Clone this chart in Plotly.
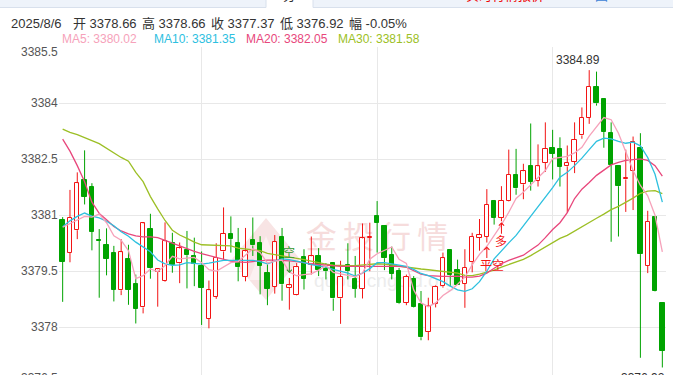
import plotly.graph_objects as go

# ---------------- data ----------------
date_label = "2025/8/6"
change_label = "-0.05%"

opens = [3380.88, 3379.99, 3380.60, 3381.95, 3381.77, 3380.34, 3380.21, 3380.00, 3378.99, 3379.84,
         3379.15, 3378.53, 3380.63, 3379.49, 3379.24, 3380.26, 3379.71, 3380.06, 3379.92, 3379.64,
         3378.22, 3378.82, 3380.03, 3380.51, 3380.27, 3379.35, 3380.34, 3380.25, 3379.46, 3379.08,
         3380.41, 3379.06, 3378.86, 3379.88, 3379.68, 3379.91, 3379.56, 3379.72, 3378.77, 3379.68,
         3379.30, 3379.03, 3380.40, 3380.97, 3380.71, 3379.94, 3379.50, 3378.66, 3379.30, 3378.62,
         3377.87, 3378.62, 3379.10, 3380.07, 3379.52, 3379.16, 3379.74, 3380.40, 3380.43, 3381.39,
         3380.93, 3381.37, 3382.09, 3381.83, 3382.31, 3381.92, 3382.40, 3382.81, 3382.78, 3382.31,
         3382.44, 3383.14, 3383.61, 3384.44, 3384.12, 3383.21, 3382.31, 3381.96, 3382.20, 3382.81,
         3379.64, 3380.96, 3378.66]
highs = [3380.95, 3381.68, 3382.15, 3382.74, 3381.86, 3380.63, 3380.65, 3380.18, 3380.36, 3380.21,
         3379.41, 3380.80, 3381.04, 3379.57, 3380.81, 3380.53, 3380.27, 3380.58, 3380.40, 3380.03,
         3379.25, 3380.25, 3381.21, 3380.97, 3380.66, 3380.66, 3380.94, 3380.44, 3379.68, 3380.47,
         3380.66, 3379.32, 3379.72, 3380.09, 3380.43, 3380.12, 3379.72, 3379.73, 3379.78, 3380.25,
         3379.91, 3380.78, 3380.80, 3381.38, 3380.72, 3380.16, 3379.59, 3379.41, 3379.37, 3378.97,
         3378.79, 3379.12, 3380.00, 3380.08, 3379.81, 3380.09, 3380.53, 3380.90, 3381.70, 3381.41,
         3381.78, 3382.76, 3382.78, 3382.38, 3383.46, 3382.90, 3383.49, 3383.29, 3383.09, 3382.87,
         3383.49, 3383.89, 3384.89, 3384.85, 3384.12, 3383.49, 3382.31, 3382.76, 3383.11, 3383.20,
         3381.12, 3380.96, 3378.66]
lows = [3378.68, 3379.74, 3380.36, 3381.29, 3380.06, 3378.79, 3379.39, 3378.69, 3378.86, 3378.60,
        3378.10, 3378.37, 3379.30, 3378.55, 3379.22, 3379.46, 3379.18, 3379.04, 3379.10, 3378.06,
        3377.97, 3378.76, 3379.81, 3380.00, 3379.23, 3379.23, 3379.91, 3378.88, 3378.59, 3378.90,
        3378.71, 3378.47, 3378.85, 3379.01, 3379.41, 3379.37, 3379.28, 3378.44, 3378.09, 3379.28,
        3378.79, 3378.77, 3379.50, 3380.00, 3379.53, 3379.28, 3378.62, 3378.59, 3378.53, 3377.65,
        3377.65, 3378.53, 3379.06, 3379.10, 3379.12, 3378.52, 3379.47, 3380.05, 3380.27, 3380.75,
        3380.84, 3381.36, 3381.55, 3381.43, 3381.66, 3381.77, 3382.16, 3381.96, 3381.77, 3381.07,
        3382.13, 3383.05, 3383.45, 3383.94, 3382.81, 3380.29, 3380.43, 3381.09, 3381.14, 3377.18,
        3379.45, 3378.96, 3376.92]
closes = [3379.76, 3380.94, 3381.86, 3381.49, 3380.56, 3380.31, 3379.83, 3379.00, 3380.01, 3379.00,
          3378.50, 3380.78, 3379.59, 3379.55, 3380.30, 3379.67, 3380.11, 3379.93, 3379.70, 3379.05,
          3378.99, 3379.86, 3380.50, 3380.36, 3379.61, 3380.03, 3380.19, 3379.65, 3379.03, 3380.28,
          3379.15, 3379.12, 3379.61, 3379.30, 3379.90, 3379.54, 3379.50, 3378.77, 3379.35, 3379.50,
          3379.03, 3380.38, 3380.43, 3380.80, 3379.85, 3379.43, 3378.64, 3379.35, 3378.55, 3377.73,
          3378.57, 3379.08, 3379.85, 3379.41, 3379.12, 3379.60, 3380.43, 3380.47, 3381.28, 3380.93,
          3381.39, 3382.09, 3381.72, 3382.18, 3381.90, 3382.31, 3382.78, 3382.65, 3382.30, 3382.41,
          3383.02, 3383.61, 3384.44, 3384.00, 3383.23, 3382.36, 3381.78, 3382.01, 3382.96, 3379.96,
          3380.83, 3378.98, 3377.37]

ma5 = [3380.68, 3380.78, 3380.88, 3380.97, 3380.95, 3381.03, 3380.80, 3380.45, 3380.33, 3380.05,
       3379.30, 3379.38, 3379.56, 3379.49, 3379.65, 3379.90, 3379.83, 3379.85, 3379.87, 3379.73,
       3379.54, 3379.50, 3379.62, 3379.73, 3379.76, 3379.93, 3380.10, 3380.00, 3379.72, 3379.77,
       3379.80, 3379.48, 3379.38, 3379.41, 3379.43, 3379.53, 3379.65, 3379.47, 3379.43, 3379.39,
       3379.35, 3379.45, 3379.82, 3379.97, 3380.05, 3380.15, 3379.82, 3379.71, 3379.00, 3378.65,
       3378.55, 3378.65, 3378.85, 3378.98, 3379.15, 3379.34, 3379.67, 3379.95, 3380.17, 3380.45,
       3380.75, 3381.08, 3381.45, 3381.62, 3381.82, 3382.00, 3382.20, 3382.52, 3382.55, 3382.58,
       3382.67, 3382.82, 3383.12, 3383.38, 3383.62, 3383.56, 3383.20, 3382.70, 3382.20, 3381.80,
       3381.52, 3381.00, 3380.02]
ma10 = [3380.69, 3380.85, 3380.97, 3381.06, 3380.98, 3380.93, 3380.84, 3380.72, 3380.56, 3380.44,
        3380.28, 3380.16, 3380.02, 3379.80, 3379.70, 3379.66, 3379.67, 3379.73, 3379.71, 3379.69,
        3379.72, 3379.76, 3379.79, 3379.79, 3379.79, 3379.79, 3379.79, 3379.76, 3379.70, 3379.77,
        3379.83, 3379.81, 3379.78, 3379.73, 3379.68, 3379.65, 3379.61, 3379.55, 3379.50, 3379.45,
        3379.37, 3379.45, 3379.57, 3379.73, 3379.73, 3379.70, 3379.65, 3379.63, 3379.55, 3379.44,
        3379.38, 3379.31, 3379.22, 3379.10, 3379.00, 3378.96, 3379.03, 3379.22, 3379.50, 3379.83,
        3380.05, 3380.26, 3380.46, 3380.71, 3380.98, 3381.22, 3381.48, 3381.74, 3382.02, 3382.15,
        3382.33, 3382.53, 3382.76, 3382.98, 3383.07, 3383.05, 3382.98, 3382.93, 3382.96, 3382.86,
        3382.55, 3382.10, 3381.35]
ma20 = [3383.04, 3382.72, 3382.33, 3381.90, 3381.35, 3381.05, 3380.88, 3380.70, 3380.58, 3380.50,
        3380.45, 3380.42, 3380.42, 3380.40, 3380.33, 3380.25, 3380.18, 3380.10, 3380.03, 3379.97,
        3379.92, 3379.86, 3379.80, 3379.77, 3379.75, 3379.74, 3379.76, 3379.79, 3379.80, 3379.80,
        3379.80, 3379.78, 3379.76, 3379.72, 3379.70, 3379.68, 3379.66, 3379.63, 3379.63, 3379.63,
        3379.63, 3379.63, 3379.63, 3379.63, 3379.64, 3379.65, 3379.63, 3379.61, 3379.52, 3379.42,
        3379.38, 3379.36, 3379.36, 3379.36, 3379.37, 3379.34, 3379.34, 3379.37, 3379.45, 3379.58,
        3379.70, 3379.79, 3379.86, 3379.93, 3380.07, 3380.20, 3380.40, 3380.62, 3380.80, 3381.07,
        3381.45, 3381.70, 3381.88, 3382.07, 3382.21, 3382.35, 3382.42, 3382.47, 3382.49, 3382.51,
        3382.47, 3382.33, 3382.05]
ma30 = [3383.31, 3383.22, 3383.16, 3383.09, 3383.00, 3382.92, 3382.80, 3382.66, 3382.55, 3382.45,
        3382.15, 3381.90, 3381.50, 3381.17, 3380.86, 3380.60, 3380.47, 3380.38, 3380.28, 3380.21,
        3380.20, 3380.20, 3380.19, 3380.18, 3380.12, 3380.10, 3380.06, 3380.05, 3379.98, 3379.95,
        3379.92, 3379.89, 3379.85, 3379.81, 3379.77, 3379.72, 3379.69, 3379.66, 3379.65, 3379.65,
        3379.65, 3379.67, 3379.69, 3379.70, 3379.69, 3379.66, 3379.63, 3379.60, 3379.58, 3379.56,
        3379.54, 3379.52, 3379.50, 3379.48, 3379.45, 3379.39, 3379.38, 3379.42, 3379.47, 3379.53,
        3379.61, 3379.68, 3379.74, 3379.82, 3379.92, 3380.04, 3380.15, 3380.27, 3380.38, 3380.46,
        3380.58, 3380.68, 3380.80, 3380.92, 3381.03, 3381.15, 3381.24, 3381.34, 3381.46, 3381.59,
        3381.65, 3381.66, 3381.58]

y_ticks = [3385.5, 3384, 3382.5, 3381, 3379.5, 3378]
y_tick_below = 3376.5
x_grid_idx = [19, 43, 67]
signal_short = 31      # 空
signal_cover = 58      # 平空
signal_long = 60       # 多

# ---------------- geometry / style ----------------
W, H = 673, 375
ML, MR, MT, MB = 59, 7, 47, 0
PW, PH = W - ML - MR, H - MT - MB
N = len(closes)
Y_TOP = 3385.51
Y_BOT = Y_TOP - PH / 37.31

RED = "#f21414"
GREEN = "#00a300"
C_MA5, C_MA10, C_MA20, C_MA30 = "#f6a2ba", "#2dc0df", "#e8477c", "#9cbf25"
GRID = "#e8e8e8"
FONT = "Liberation Sans, Arial, Noto Sans CJK SC, sans-serif"


def xp(px):
    return (px - ML) / PW


def yp(py):
    return (H - MB - py) / PH


def xd(px):
    return -0.5 + (px - ML) / PW * N


def yd(py):
    return Y_BOT + (H - MB - py) / PH * (Y_TOP - Y_BOT)


def ypix(v):
    return H - MB - (v - Y_BOT) / (Y_TOP - Y_BOT) * PH


idx = list(range(N))
up = [i for i in idx if closes[i] >= opens[i]]
dn = [i for i in idx if closes[i] < opens[i]]

fig = go.Figure()

# bodies
fig.add_trace(go.Bar(x=up, base=[min(opens[i], closes[i]) for i in up],
                     y=[abs(closes[i] - opens[i]) for i in up], width=0.6,
                     marker=dict(color="white", line=dict(color=RED, width=1)),
                     hoverinfo="skip"))
fig.add_trace(go.Bar(x=dn, base=[min(opens[i], closes[i]) for i in dn],
                     y=[abs(closes[i] - opens[i]) for i in dn], width=0.6,
                     marker=dict(color=GREEN, line=dict(color=GREEN, width=1)),
                     hoverinfo="skip"))


def wicks(ids):
    xs, ys = [], []
    for i in ids:
        top, bot = max(opens[i], closes[i]), min(opens[i], closes[i])
        if highs[i] > top:
            xs += [i, i, None]
            ys += [highs[i], top, None]
        if lows[i] < bot:
            xs += [i, i, None]
            ys += [bot, lows[i], None]
    return xs, ys


for ids, col in ((up, RED), (dn, GREEN)):
    wx, wy = wicks(ids)
    fig.add_trace(go.Scatter(x=wx, y=wy, mode="lines", line=dict(color=col, width=1),
                             hoverinfo="skip"))

for vals, col in ((ma30, C_MA30), (ma20, C_MA20), (ma10, C_MA10), (ma5, C_MA5)):
    fig.add_trace(go.Scatter(x=idx, y=vals, mode="lines", line=dict(color=col, width=1.3),
                             hoverinfo="skip"))

ann = []
# y-axis labels
for v in y_ticks:
    shift = -5 if v == y_ticks[0] else 0
    ann.append(dict(xref="paper", yref="y", x=0, y=v, xanchor="right", yanchor="middle",
                    xshift=1, yshift=shift, text=f"{v:g}", showarrow=False,
                    font=dict(size=12, color="#555", family=FONT)))
# label of the gridline just below the visible area (only its top shows)
ann.append(dict(xref="paper", yref="paper", x=0, y=yp(ypix(y_tick_below) - 5),
                xanchor="right", yanchor="middle", xshift=1,
                text=f"{y_tick_below:g}", showarrow=False,
                font=dict(size=12, color="#555", family=FONT)))

# header row
last = N - 1
header = [(9, date_label), (70.5, f"开 {opens[last]:.2f}"), (139.5, f"高 {highs[last]:.2f}"),
          (209, f"收 {closes[last]:.2f}"), (278, f"低 {lows[last]:.2f}"), (347, f"幅 {change_label}")]
for px, t in header:
    ann.append(dict(xref="paper", yref="paper", x=xp(px), y=yp(23.5), xanchor="left",
                    yanchor="middle", text=t, showarrow=False,
                    font=dict(size=13, color="#333", family=FONT)))

legend = [(60, "MA5", ma5, C_MA5), (152, "MA10", ma10, C_MA10),
          (244, "MA20", ma20, C_MA20), (336, "MA30", ma30, C_MA30)]
for px, name, vals, col in legend:
    ann.append(dict(xref="paper", yref="paper", x=xp(px), y=yp(38.5), xanchor="left",
                    yanchor="middle", text=f"{name}: {vals[-1]:.2f}", showarrow=False,
                    font=dict(size=12, color=col, family=FONT)))

# max / min labels
imax = max(idx, key=lambda i: highs[i])
imin = min(idx, key=lambda i: lows[i])
ann.append(dict(x=imax, y=highs[imax], xanchor="center", yanchor="bottom", xshift=-11, yshift=1,
                text=f"{highs[imax]:.2f}", showarrow=False,
                font=dict(size=12, color="#333", family=FONT)))
ann.append(dict(x=imin, y=lows[imin], xanchor="right", yanchor="top", xshift=5, yshift=-2,
                text=f"{lows[imin]:.2f}", showarrow=False,
                font=dict(size=12, color="#333", family=FONT)))

# trade signals
ann.append(dict(x=signal_short, y=highs[signal_short], ax=0, ay=-25, text="空",
                showarrow=True, arrowhead=4, arrowsize=1, arrowwidth=1, arrowcolor="#2f9a2f",
                standoff=5, font=dict(size=12, color="#2f9a2f", family=FONT)))
ann.append(dict(x=signal_long, y=lows[signal_long], ax=0, ay=21, text="多",
                showarrow=True, arrowhead=4, arrowsize=1, arrowwidth=1, arrowcolor=RED,
                standoff=1, font=dict(size=12, color=RED, family=FONT)))
ann.append(dict(x=signal_cover, y=lows[signal_cover], ax=0, ay=17, text="",
                showarrow=True, arrowhead=4, arrowsize=1, arrowwidth=1, arrowcolor=RED,
                standoff=4))
ann.append(dict(x=signal_cover, y=lows[signal_cover], xshift=5.5, yshift=-23, text="平空",
                showarrow=False, xanchor="center", yanchor="middle",
                font=dict(size=12, color=RED, family=FONT)))

# clipped tab texts at the very top
ann.append(dict(xref="paper", yref="paper", x=xp(505), y=yp(-4), xanchor="center",
                yanchor="middle", text="实时行情报价", showarrow=False,
                font=dict(size=13, color="#e00", family=FONT)))
ann.append(dict(xref="paper", yref="paper", x=xp(601), y=yp(-4), xanchor="center",
                yanchor="middle", text="图", showarrow=False,
                font=dict(size=13, color="#3b7fd6", family=FONT)))
ann.append(dict(xref="paper", yref="paper", x=xp(289), y=yp(-4), xanchor="center",
                yanchor="middle", text="分", showarrow=False,
                font=dict(size=13, color="#333", family=FONT)))

shapes = []
# watermark (below traces)
shapes.append(dict(type="path", xref="x", yref="y", layer="between",
                   path=f"M {xd(232)},{yd(259)} L {xd(266)},{yd(218)} L {xd(300)},{yd(259)} "
                        f"L {xd(266)},{yd(300)} Z",
                   fillcolor="#f8e4e4", line=dict(width=0)))
shapes.append(dict(type="path", xref="x", yref="y", layer="between",
                   path=f"M {xd(266)},{yd(236)} L {xd(249)},{yd(280)} L {xd(283)},{yd(280)} Z",
                   fillcolor="#fcf1f1", line=dict(width=0)))
shapes.append(dict(type="rect", xref="x", yref="y", layer="between",
                   x0=xd(298), x1=xd(456), y0=yd(256), y1=yd(222),
                   line=dict(width=0), fillcolor="rgba(0,0,0,0)",
                   label=dict(text="金\u2009投\u2009行\u2009情", textposition="middle center",
                              font=dict(size=31, color="#f6dcdc", family="Noto Sans CJK SC"))))
shapes.append(dict(type="rect", xref="x", yref="y", layer="between",
                   x0=xd(308), x1=xd(470), y0=yd(288), y1=yd(268),
                   line=dict(width=0), fillcolor="rgba(0,0,0,0)",
                   label=dict(text="quote.cngold.org", textposition="middle left",
                              font=dict(size=19, color="#ececec", family=FONT))))
# top tab strip
shapes.append(dict(type="rect", xref="paper", yref="paper", x0=xp(0), x1=xp(673),
                   y0=yp(7.5), y1=yp(0), fillcolor="#eef3fa", line=dict(width=0), layer="below"))
shapes.append(dict(type="line", xref="paper", yref="paper", x0=xp(0), x1=xp(266),
                   y0=yp(7.5), y1=yp(7.5), line=dict(color="#d8e0ec", width=1)))
shapes.append(dict(type="line", xref="paper", yref="paper", x0=xp(313), x1=xp(673),
                   y0=yp(7.5), y1=yp(7.5), line=dict(color="#d8e0ec", width=1)))
shapes.append(dict(type="rect", xref="paper", yref="paper", x0=xp(266), x1=xp(313),
                   y0=yp(8), y1=yp(0), fillcolor="white", line=dict(width=0)))
for px in (266, 313):
    shapes.append(dict(type="line", xref="paper", yref="paper", x0=xp(px), x1=xp(px),
                       y0=yp(7.5), y1=yp(0), line=dict(color="#d8e0ec", width=1)))

fig.update_layout(
    width=W, height=H,
    margin=dict(l=ML, r=MR, t=MT, b=MB, pad=0),
    paper_bgcolor="white", plot_bgcolor="white",
    showlegend=False, barmode="overlay", bargap=0,
    font=dict(family=FONT),
    xaxis=dict(range=[-0.5, N - 0.5], tickvals=x_grid_idx, showticklabels=False,
               showgrid=True, gridcolor=GRID, gridwidth=1, zeroline=False, showline=False,
               ticks=""),
    yaxis=dict(range=[Y_BOT, Y_TOP], tickvals=y_ticks, showticklabels=False,
               showgrid=True, gridcolor=GRID, gridwidth=1, zeroline=False, showline=False,
               ticks=""),
    annotations=ann,
    shapes=shapes,
)

fig.write_html("out.html")
